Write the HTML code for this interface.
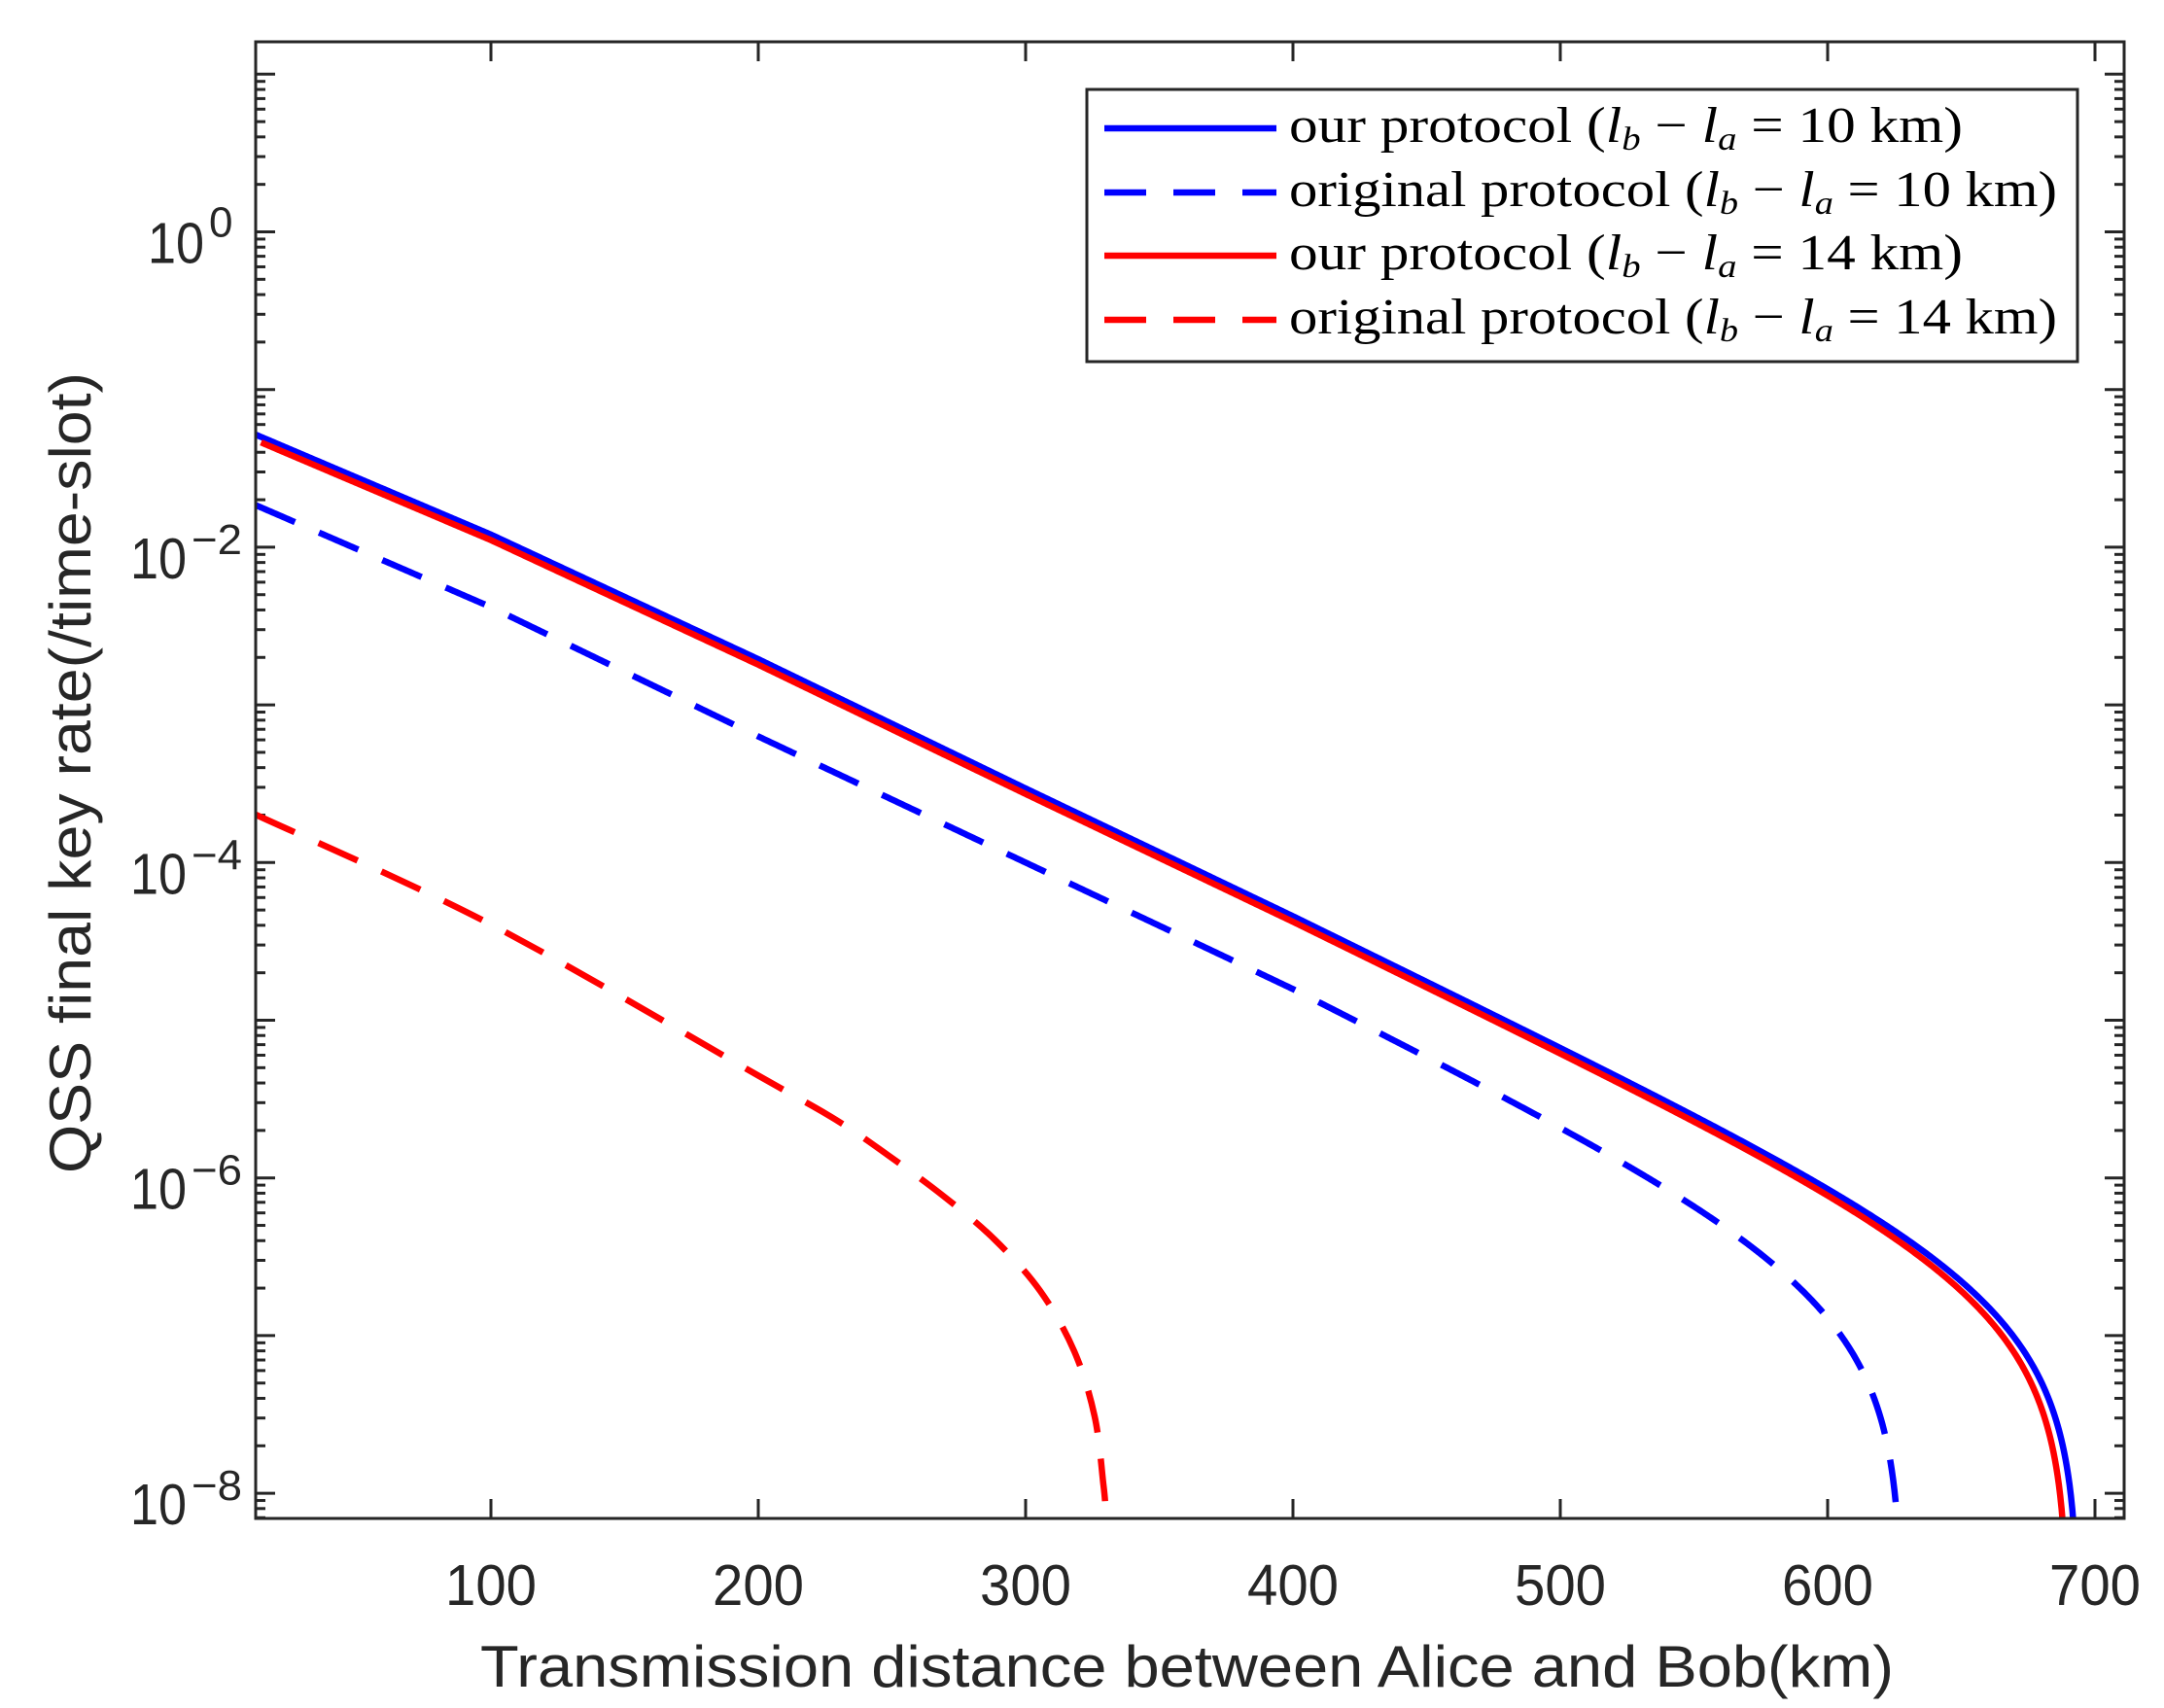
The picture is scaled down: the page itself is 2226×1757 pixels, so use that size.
<!DOCTYPE html>
<html><head><meta charset="utf-8"><style>html,body{margin:0;padding:0;background:#fff}svg{display:block}</style></head>
<body>
<svg id="s" width="2226" height="1757" viewBox="0 0 2226 1757" xmlns="http://www.w3.org/2000/svg">
<defs><clipPath id="c"><rect x="263" y="43" width="1922" height="1519"/></clipPath></defs>
<rect width="2226" height="1757" fill="#fff"/>
<g id="ticks" stroke="#262626" stroke-width="3"></g>
<g clip-path="url(#c)" fill="none" stroke-width="6.5" stroke-linejoin="round">
<path id="rd" stroke="#ff0000" stroke-dasharray="44 27"/>
<path id="bd" stroke="#0000ff" stroke-dasharray="44 27"/>
<path id="bs" stroke="#0000ff"/>
<path id="rs" stroke="#ff0000"/>
</g>
<rect x="263" y="43" width="1922" height="1519" fill="none" stroke="#262626" stroke-width="3"/>
<g id="labels" fill="#262626" font-family="Liberation Sans, sans-serif"></g>
<text x="1221" y="1735" font-family="Liberation Sans, sans-serif" font-size="60" fill="#262626" text-anchor="middle" textLength="1454" lengthAdjust="spacingAndGlyphs">Transmission distance between Alice and Bob(km)</text>
<text transform="translate(93,795) rotate(-90)" font-family="Liberation Sans, sans-serif" font-size="60" fill="#262626" text-anchor="middle" textLength="824" lengthAdjust="spacingAndGlyphs">QSS final key rate(/time-slot)</text>
<rect x="1118" y="92" width="1019" height="280" fill="#fff" stroke="#262626" stroke-width="3"/>
<g stroke-width="6.5">
<line x1="1136" y1="132" x2="1313" y2="132" stroke="#0000ff"/>
<line x1="1136" y1="198" x2="1313" y2="198" stroke="#0000ff" stroke-dasharray="43 28"/>
<line x1="1136" y1="263" x2="1313" y2="263" stroke="#ff0000"/>
<line x1="1136" y1="329" x2="1313" y2="329" stroke="#ff0000" stroke-dasharray="43 28"/>
</g>
<g font-family="Liberation Serif, serif" font-size="52" fill="#000">
<text x="1326" y="146" textLength="693" lengthAdjust="spacingAndGlyphs">our protocol (<tspan font-style="italic">l</tspan><tspan font-style="italic" font-size="34" dy="8">b</tspan><tspan dy="-8"> − </tspan><tspan font-style="italic">l</tspan><tspan font-style="italic" font-size="34" dy="8">a</tspan><tspan dy="-8"> = 10 km)</tspan></text>
<text x="1326" y="212" textLength="790" lengthAdjust="spacingAndGlyphs">original protocol (<tspan font-style="italic">l</tspan><tspan font-style="italic" font-size="34" dy="8">b</tspan><tspan dy="-8"> − </tspan><tspan font-style="italic">l</tspan><tspan font-style="italic" font-size="34" dy="8">a</tspan><tspan dy="-8"> = 10 km)</tspan></text>
<text x="1326" y="277" textLength="693" lengthAdjust="spacingAndGlyphs">our protocol (<tspan font-style="italic">l</tspan><tspan font-style="italic" font-size="34" dy="8">b</tspan><tspan dy="-8"> − </tspan><tspan font-style="italic">l</tspan><tspan font-style="italic" font-size="34" dy="8">a</tspan><tspan dy="-8"> = 14 km)</tspan></text>
<text x="1326" y="343" textLength="790" lengthAdjust="spacingAndGlyphs">original protocol (<tspan font-style="italic">l</tspan><tspan font-style="italic" font-size="34" dy="8">b</tspan><tspan dy="-8"> − </tspan><tspan font-style="italic">l</tspan><tspan font-style="italic" font-size="34" dy="8">a</tspan><tspan dy="-8"> = 14 km)</tspan></text>
</g>
</svg>
<script>
(function(){
var NS="http://www.w3.org/2000/svg";
function px(L){return 505+(L-100)*2.75;}
function py(g){return 238.5-g*162.2;}
var T=document.getElementById('ticks'),Lb=document.getElementById('labels');
function ln(x1,y1,x2,y2){var e=document.createElementNS(NS,'line');e.setAttribute('x1',x1);e.setAttribute('y1',y1);e.setAttribute('x2',x2);e.setAttribute('y2',y2);T.appendChild(e);}
function tx(x,y,s,fs,anchor,tl){var e=document.createElementNS(NS,'text');e.setAttribute('x',x);e.setAttribute('y',y);e.setAttribute('font-size',fs);if(anchor)e.setAttribute('text-anchor',anchor);if(tl){e.setAttribute('textLength',tl);e.setAttribute('lengthAdjust','spacingAndGlyphs');}e.textContent=s;Lb.appendChild(e);}
for(var k=1;k<=7;k++){var x=px(k*100);ln(x,1562,x,1542);ln(x,43,x,63);tx(x,1651,String(k*100),59,'middle',94);}
for(var d=-9;d<=1;d++){for(var m=1;m<=9;m++){var y=py(d+Math.log10(m));if(y<43||y>1562)continue;var len=(m==1)?20:10;ln(263,y,263+len,y);ln(2185,y,2185-len,y);}}
[0,-2,-4,-6,-8].forEach(function(e){var y=py(e);if(e==0){tx(210,y+32,'10',59,'end',58);tx(215,y+5,'0',44);}else{tx(192,y+32,'10',59,'end',58);tx(197,y+7,'\u2212'+(-e),44,null,52);}});
function interp(tb,L){for(var i=0;i<tb.length-1;i++){if(L<=tb[i+1][0]){var a=tb[i],b=tb[i+1];return a[1]+(b[1]-a[1])*(L-a[0])/(b[0]-a[0]);}}return tb[tb.length-1][1];}
function model(tb,off,L0,Lm,p){var s='';for(var L=L0;;L+=0.5){var done=false;if(L>=Lm){L=Lm-0.0005;done=true;}var r=L/Lm;var g=interp(tb,L)+off+Math.log10(Math.max(1-Math.pow(r,p),1e-12));var y=Math.min(py(g),1600);s+=(s?'L':'M')+px(L).toFixed(2)+' '+y.toFixed(2);if(done||y>=1600)break;}return s;}
var bs=[[12,-1.286],[100,-1.92],[200,-2.71],[300,-3.53],[400,-4.34],[500,-5.17],[800,-7.66]];
var bd=[[12,-1.733],[100,-2.38],[200,-3.2],[300,-4.0],[400,-4.8],[500,-5.65],[800,-8.2]];
document.getElementById('bs').setAttribute('d',model(bs,0,12,694,13));
document.getElementById('rs').setAttribute('d',model(bs,-0.035,14,690,13));
document.getElementById('bd').setAttribute('d',model(bd,0,12,628,11.5));
var P=[[263,838],[505,951],[781,1107],[860,1152],[913,1188],[970,1230],[1023,1275],[1070,1328],[1105,1390],[1126,1457],[1135,1527],[1137,1548]];
var s='M'+P[0][0]+' '+P[0][1];
for(var i=0;i<P.length-1;i++){var p0=P[Math.max(i-1,0)],p1=P[i],p2=P[i+1],p3=P[Math.min(i+2,P.length-1)];
s+='C'+(p1[0]+(p2[0]-p0[0])/6).toFixed(2)+' '+(p1[1]+(p2[1]-p0[1])/6).toFixed(2)+' '+(p2[0]-(p3[0]-p1[0])/6).toFixed(2)+' '+(p2[1]-(p3[1]-p1[1])/6).toFixed(2)+' '+p2[0]+' '+p2[1];}
document.getElementById('rd').setAttribute('d',s);
})();
</script>
</body></html>
